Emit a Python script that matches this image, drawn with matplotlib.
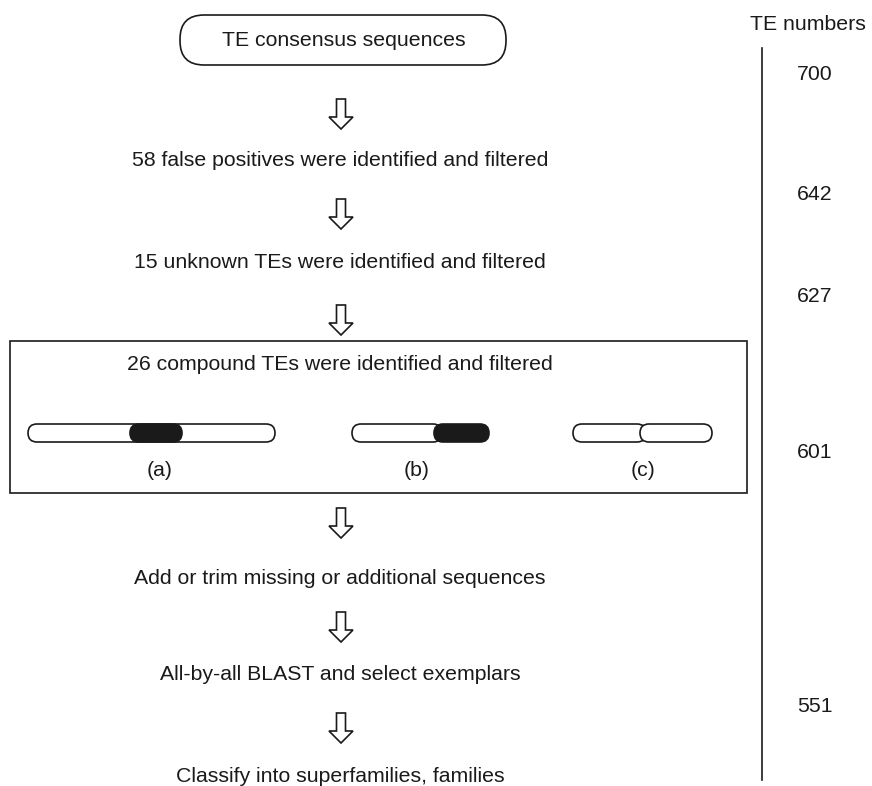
import matplotlib.pyplot as plt
from matplotlib.patches import FancyBboxPatch, Polygon, Rectangle

plt.rcParams['font.family'] = ['Liberation Sans', 'DejaVu Sans']

# data
start_label = "TE consensus sequences"
step_labels = ["58 false positives were identified and filtered",
               "15 unknown TEs were identified and filtered",
               "26 compound TEs were identified and filtered",
               "Add or trim missing or additional sequences",
               "All-by-all BLAST and select exemplars",
               "Classify into superfamilies, families"]
case_labels = ["(a)", "(b)", "(c)"]
te_title = "TE numbers"
te_numbers = [700, 642, 627, 601, 551]

# layout (pixel units)
step_y = [161, 262, 364, 579, 674, 777]
arrow_y = [99, 199, 305, 508, 612, 713]
te_y = [74, 195, 296, 453, 707]
ink = '#1a1a1a'
fs = 15.3

fig = plt.figure(figsize=(8.72, 7.86), dpi=100)
ax = fig.add_axes([0, 0, 1, 1])
ax.set_xlim(0, 872)
ax.set_ylim(786, 0)
ax.axis('off')

def down_arrow(xc, ytop, h=30, shaft=9, head=24, head_h=12):
    pts = [(xc - shaft/2, ytop), (xc + shaft/2, ytop),
           (xc + shaft/2, ytop + h - head_h), (xc + head/2, ytop + h - head_h),
           (xc, ytop + h), (xc - head/2, ytop + h - head_h),
           (xc - shaft/2, ytop + h - head_h)]
    ax.add_patch(Polygon(pts, closed=True, facecolor='white', edgecolor=ink, lw=1.2))

def pill(x0, x1, yc, color, h=18):
    ax.add_patch(FancyBboxPatch((x0, yc - h/2), x1 - x0, h,
                                boxstyle="round,pad=0,rounding_size=%g" % (h/2),
                                facecolor=color, edgecolor=ink, lw=1.2))

# start box
ax.add_patch(FancyBboxPatch((180, 15), 326, 50,
                            boxstyle="round,pad=0,rounding_size=24",
                            facecolor='white', edgecolor=ink, lw=1.2))
ax.text(344, 41, start_label, ha='center', va='center', fontsize=fs, color=ink)

for y in arrow_y:
    down_arrow(341, y)

for lab, y in zip(step_labels, step_y):
    ax.text(340, y, lab, ha='center', va='center', fontsize=fs, color=ink)

# compound TE box
ax.add_patch(Rectangle((10, 341), 737, 152, facecolor='none', edgecolor=ink, lw=1.2))

bar_y = 433
# (a) compound TE inserted in the middle
pill(28, 275, bar_y, 'white')
pill(130, 182, bar_y, ink)
# (b) compound TE at one end
pill(352, 442, bar_y, 'white')
pill(434, 489, bar_y, ink)
# (c) two TEs joined
pill(573, 646, bar_y, 'white')
pill(640, 712, bar_y, 'white')

for lab, x in zip(case_labels, [160, 417, 643]):
    ax.text(x, 470, lab, ha='center', va='center', fontsize=fs, color=ink)

# TE numbers column
ax.text(808, 24, te_title, ha='center', va='center', fontsize=fs, color=ink)
ax.plot([762, 762], [48, 780], color=ink, lw=1.2)
for n, y in zip(te_numbers, te_y):
    ax.text(815, y, str(n), ha='center', va='center', fontsize=fs, color=ink)

fig.savefig('out.png', dpi=100, facecolor='white')
